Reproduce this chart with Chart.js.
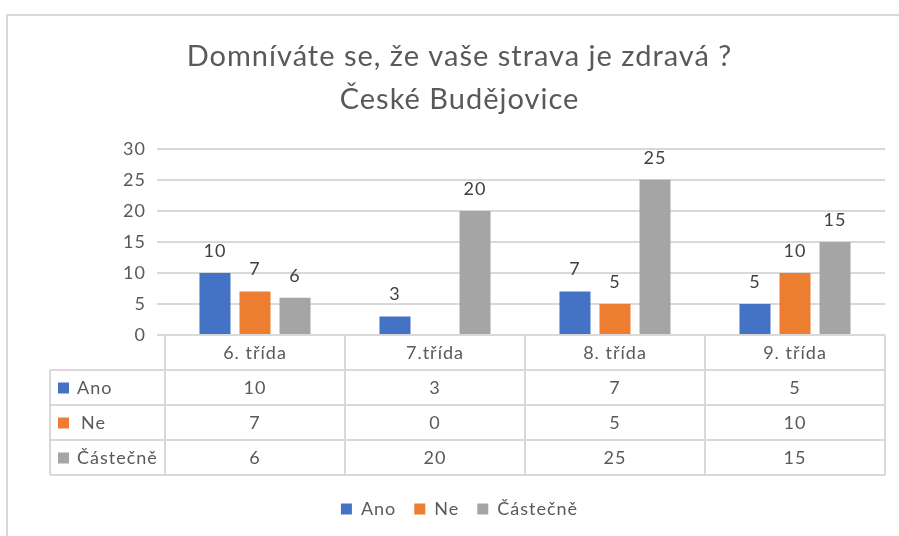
<!DOCTYPE html>
<html>
<head>
<meta charset="utf-8">
<script src="https://cdn.jsdelivr.net/npm/chart.js@4.4.1/dist/chart.umd.min.js"></script>
<style>
html, body { margin: 0; padding: 0; background: #fff; }
#wrap { position: relative; width: 899px; height: 536px; overflow: hidden; }
#frame { position: absolute; left: 6px; top: 14px; width: 1000px; height: 1000px; border: 2px solid #d9d9d9; box-sizing: border-box; }
canvas { position: absolute; left: 0; top: 0; }
</style>
</head>
<body>
<div id="wrap">
  <div id="frame"></div>
  <canvas id="chart" width="899" height="536"></canvas>
</div>
<script>
// data
const categories = ['6. třída', '7.třída', '8. třída', '9. třída'];
const seriesNames = ['Ano', 'Ne', 'Částečně'];
const ano = [10, 3, 7, 5];
const ne = [7, 0, 5, 10];
const castecne = [6, 20, 25, 15];
const yTicks = [0, 5, 10, 15, 20, 25, 30];
const colors = ['#4472C4', '#ED7D31', '#A5A5A5'];

const FONT = "Lato, 'Open Sans', sans-serif";
const TEXT = '#595959';
const LINE = '#d9d9d9';

// the Excel text is spaced out a little
const spacing = {
    id: 'spacing',
    beforeUpdate(chart) { chart.ctx.letterSpacing = '1px'; },
    beforeDraw(chart) { chart.ctx.letterSpacing = '1px'; }
};

// value labels above the bars (Excel leaves out the zero)
const valueLabels = {
    id: 'valueLabels',
    afterDatasetsDraw(chart) {
        const ctx = chart.ctx;
        ctx.save();
        ctx.font = '18px ' + FONT;
        ctx.fillStyle = '#404040';
        ctx.textAlign = 'center';
        ctx.textBaseline = 'bottom';
        chart.data.datasets.forEach((ds, i) => {
            chart.getDatasetMeta(i).data.forEach((bar, j) => {
                if (!ds.data[j]) return;
                ctx.fillText(ds.data[j], bar.x, bar.y - 13);
            });
        });
        ctx.restore();
    }
};

// data table under the plot, drawn in the space of the x axis
const dataTable = {
    id: 'dataTable',
    afterDraw(chart) {
        const ctx = chart.ctx;
        const area = chart.chartArea;
        const xs = chart.scales.x;
        const top = area.bottom;
        const rowH = 35;
        const labelLeft = 50;
        const colW = (area.right - area.left) / categories.length;
        const rows = chart.data.datasets;
        const bottom = top + rowH * (rows.length + 1);

        ctx.save();
        ctx.strokeStyle = LINE;
        ctx.lineWidth = 2;
        ctx.beginPath();
        // header row top
        ctx.moveTo(area.left, top); ctx.lineTo(area.right, top);
        for (let r = 1; r <= rows.length + 1; r++) {
            const y = top + rowH * r;
            ctx.moveTo(labelLeft, y); ctx.lineTo(area.right, y);
        }
        ctx.moveTo(labelLeft, top + rowH); ctx.lineTo(labelLeft, bottom);
        for (let c = 0; c <= categories.length; c++) {
            const x = area.left + colW * c;
            ctx.moveTo(x, top); ctx.lineTo(x, bottom);
        }
        ctx.stroke();

        ctx.font = '18px ' + FONT;
        ctx.fillStyle = TEXT;
        ctx.textAlign = 'center';
        ctx.textBaseline = 'middle';
        categories.forEach((c, i) => {
            ctx.fillText(c, xs.getPixelForValue(i), top + rowH / 2 + 1);
        });
        rows.forEach((ds, r) => {
            const yc = top + rowH * (r + 1) + rowH / 2 + 1;
            ds.data.forEach((v, i) => {
                ctx.fillText(v, xs.getPixelForValue(i), yc);
            });
            ctx.fillStyle = ds.backgroundColor;
            ctx.fillRect(58, yc - 6, 11, 11);
            ctx.fillStyle = TEXT;
            ctx.textAlign = 'left';
            ctx.fillText(ds.label, r === 1 ? 81 : 77, yc);
            ctx.textAlign = 'center';
        });
        ctx.restore();
    }
};

new Chart(document.getElementById('chart'), {
    type: 'bar',
    data: {
        labels: categories,
        datasets: [
            { label: seriesNames[0], data: ano, backgroundColor: colors[0] },
            { label: seriesNames[1], data: ne, backgroundColor: colors[1] },
            { label: seriesNames[2], data: castecne, backgroundColor: colors[2] }
        ]
    },
    options: {
        responsive: false,
        animation: false,
        layout: { padding: { left: 34, right: 14, top: 0, bottom: 8 } },
        datasets: { bar: { categoryPercentage: 0.667, barPercentage: 0.775 } },
        plugins: {
            title: {
                display: true,
                text: ['Domníváte se, že vaše strava je zdravá ?', 'České Budějovice'],
                color: TEXT,
                font: { family: FONT, size: 29, weight: 'normal', lineHeight: 1.48 },
                padding: { top: 35, bottom: 28 }
            },
            legend: {
                position: 'bottom',
                labels: {
                    color: TEXT,
                    font: { family: FONT, size: 18 },
                    boxWidth: 11,
                    boxHeight: 11,
                    padding: 18
                }
            },
            tooltip: { enabled: false }
        },
        scales: {
            x: {
                grid: { display: false },
                border: { display: false },
                ticks: { display: false },
                afterFit(scale) { scale.height = 147; }
            },
            y: {
                min: 0,
                max: 30,
                afterBuildTicks(scale) { scale.ticks = yTicks.map(v => ({ value: v })); },
                afterFit(scale) { scale.width = 131; },
                grid: { color: LINE, lineWidth: 2 },
                border: { display: false },
                ticks: { color: TEXT, font: { family: FONT, size: 18 }, padding: 11 }
            }
        }
    },
    plugins: [spacing, valueLabels, dataTable]
});
</script>
</body>
</html>
